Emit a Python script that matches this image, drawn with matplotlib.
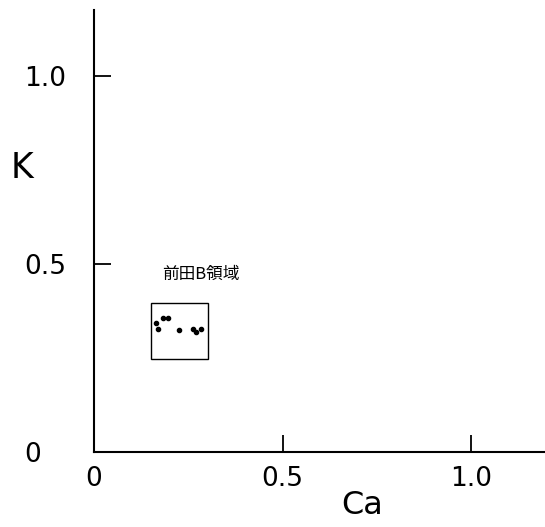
import matplotlib
matplotlib.use("Agg")
import matplotlib.pyplot as plt
from matplotlib.patches import Rectangle

# Ca / K composition of the Maeda B samples
ca = [0.164, 0.171, 0.184, 0.197, 0.225, 0.263, 0.270, 0.284]
k = [0.342, 0.327, 0.357, 0.357, 0.324, 0.327, 0.318, 0.326]

# field enclosing the group (Ca range, K range)
region_ca = [0.151, 0.302]
region_k = [0.247, 0.396]
region_label = "前田B領域"

xticks = [0, 0.5, 1.0]
xtick_labels = ["0", "0.5", "1.0"]
yticks = [0, 0.5, 1.0]
ytick_labels = ["0", "0.5", "1.0"]

fig = plt.figure(figsize=(5.45, 5.27), dpi=100)
ax = fig.add_axes([0.1725, 0.1423, 0.8275, 0.8387])

ax.set_xlim(0, 1.196)
ax.set_ylim(0, 1.175)

for side in ("top", "right"):
    ax.spines[side].set_visible(False)
for side in ("left", "bottom"):
    ax.spines[side].set_linewidth(1.5)
    ax.spines[side].set_color("black")

ax.set_xticks(xticks)
ax.set_xticklabels(xtick_labels)
ax.set_yticks(yticks)
ax.set_yticklabels(ytick_labels)
ax.tick_params(axis="x", direction="in", length=12, width=1.3, pad=10,
               labelsize=19)
ax.tick_params(axis="y", direction="in", length=12, width=1.3, pad=50,
               labelsize=19)
for lbl in ax.get_yticklabels():
    lbl.set_horizontalalignment("left")

ax.plot(ca, k, "o", color="black", markersize=3, linestyle="none")

ax.add_patch(Rectangle((region_ca[0], region_k[0]),
                       region_ca[1] - region_ca[0],
                       region_k[1] - region_k[0],
                       fill=False, edgecolor="black", linewidth=1.0))

ax.text(0.284, 0.471, region_label,
        ha="center", va="center", fontsize=12,
        family=["Noto Sans CJK JP", "DejaVu Sans"])

fig.text(362 / 545, 1 - 505 / 527, "Ca", ha="center", va="center",
         fontsize=23)
fig.text(22 / 545, 1 - 168 / 527, "K", ha="center", va="center",
         fontsize=25)

fig.savefig("out.png", dpi=100)
